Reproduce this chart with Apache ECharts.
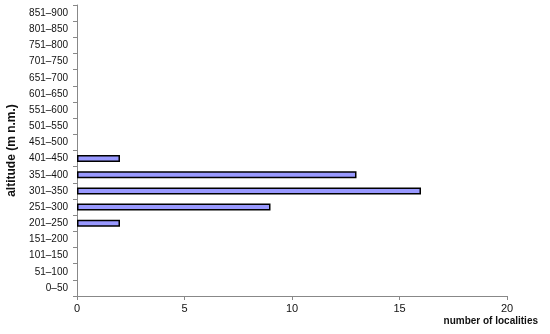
<!DOCTYPE html>
<html><head><meta charset="utf-8">
<script src="https://cdn.jsdelivr.net/npm/echarts@6/dist/echarts.min.js"></script>
<style>html,body{margin:0;padding:0;background:#fff}#c{width:550px;height:334px}</style>
</head><body><div id="c"></div>
<script>
var categories = ['0–50','51–100','101–150','151–200','201–250','251–300','301–350','351–400','401–450','451–500','501–550','551–600','601–650','651–700','701–750','751–800','801–850','851–900'];
var values = [0,0,0,0,2,9,16,13,2,0,0,0,0,0,0,0,0,0];
var xTicks = {min:0, max:20, interval:5};
var xName = 'number of localities';
var yName = 'altitude (m n.m.)';
var chart = echarts.init(document.getElementById('c'));
var font = 'Liberation Sans, Arial, sans-serif';
chart.setOption({
  animation:false,
  grid:{left:77,right:43,top:5,bottom:38,containLabel:false,outerBoundsMode:'none'},
  graphic:[{type:'text',right:12,top:316,style:{text:xName,fill:'#111',font:'bold 10px Liberation Sans, Arial, sans-serif'}}],
  xAxis:{type:'value',min:xTicks.min,max:xTicks.max,interval:xTicks.interval,
    splitLine:{show:false},
    axisLine:{show:true,lineStyle:{color:'#888',width:1}},
    axisTick:{show:true,length:4,lineStyle:{color:'#888'}},
    axisLabel:{color:'#111',fontFamily:font,fontSize:11,margin:7}
  },
  yAxis:{type:'category',data:categories,
    axisLine:{show:true,lineStyle:{color:'#888',width:1}},
    axisTick:{show:true,length:4,interval:0,lineStyle:{color:'#888'}},
    axisLabel:{color:'#111',fontFamily:font,fontSize:10,margin:9,interval:0},
    name:yName,nameLocation:'middle',nameGap:59,
    nameTextStyle:{color:'#111',fontFamily:font,fontSize:12,fontWeight:'bold'}
  },
  series:[{type:'bar',data:values.map(function(v){return v===0?null:v;}),barWidth:7,
    itemStyle:{color:'#9999ff',borderColor:'#000',borderWidth:1.5}}]
});
</script></body></html>
